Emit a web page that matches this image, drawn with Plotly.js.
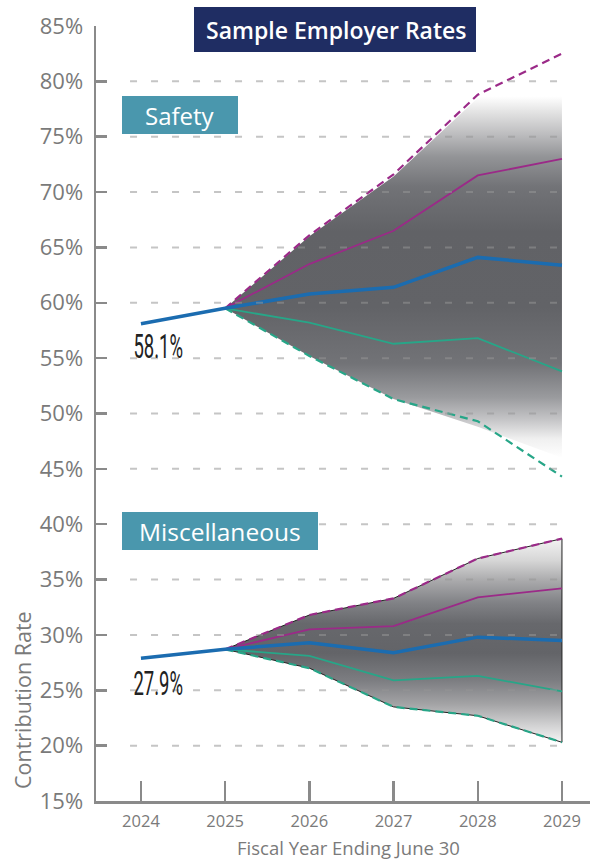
<!DOCTYPE html>
<html>
<head>
<meta charset="utf-8">
<script src="https://cdn.plot.ly/plotly-3.0.1.min.js"></script>
<style>body{margin:0;background:#fff}#chart{width:600px;height:860px}</style>
</head>
<body>
<div id="chart"></div>
<script>
// ---- data ----
const years = [2024, 2025, 2026, 2027, 2028, 2029];
const projYears = [2025, 2026, 2027, 2028, 2029];

const safetyMedian = [58.1, 59.5, 60.8, 61.4, 64.1, 63.4];
const safetyP75 = [59.5, 63.5, 66.5, 71.5, 73.0];
const safetyP95 = [59.5, 66.1, 71.6, 78.8, 82.5];
const safetyP25 = [59.5, 58.2, 56.3, 56.8, 53.8];
const safetyP5 = [59.5, 55.2, 51.3, 49.3, 44.3];
const safetyBandHi = [59.5, 66.0, 71.4, 78.5, 80.5];
const safetyBandLo = [59.5, 55.2, 51.3, 48.8, 46.0];

const miscMedian = [27.9, 28.7, 29.3, 28.4, 29.8, 29.5];
const miscP75 = [28.7, 30.5, 30.8, 33.4, 34.2];
const miscP95 = [28.7, 31.8, 33.3, 36.9, 38.7];
const miscP25 = [28.7, 28.1, 25.9, 26.3, 24.9];
const miscP5 = [28.7, 27.0, 23.5, 22.7, 20.3];

const yTickVals = [15, 20, 25, 30, 35, 40, 45, 50, 55, 60, 65, 70, 75, 80, 85];
const gridVals = [20, 25, 30, 35, 40, 45, 50, 55, 60, 65, 70, 75, 80];

const titleText = 'Sample Employer Rates';
const safetyLabel = 'Safety';
const miscLabel = 'Miscellaneous';
const yTitle = 'Contribution Rate';
const xTitle = 'Fiscal Year Ending June 30';

// ---- styles ----
const BLUE = '#1b6cb0', MAG = '#9b2a88', GRN = '#27a688';
const AX = '#8a8a8a', TXT = '#7a7a7a';
const FONT = 'Open Sans, Noto Sans, sans-serif';

const M = {l: 96, r: 10, t: 26, b: 59};
const PW = 600 - M.l - M.r, PH = 860 - M.t - M.b;
const px = v => (v - M.l) / PW;
const py = v => (860 - M.b - v) / PH;

function band(hi, lo, start, stop, scale, outline) {
  return {
    x: projYears.concat(projYears.slice().reverse()),
    y: hi.concat(lo.slice().reverse()),
    type: 'scatter', mode: 'lines', fill: 'toself',
    line: outline ? {color: '#222', width: 1} : {width: 0, color: 'rgba(0,0,0,0)'},
    fillcolor: '#666',
    fillgradient: {type: 'vertical', start: start, stop: stop, colorscale: scale},
    hoverinfo: 'skip', showlegend: false
  };
}
function line(x, y, color, width, dash) {
  return {x: x, y: y, type: 'scatter', mode: 'lines',
    line: {color: color, width: width, dash: dash || 'solid'}, showlegend: false};
}

// safety gradient: start 46 -> stop 80
const safetyScale = [
  [0, '#ffffff'], [0.05, '#f0f0f0'], [0.1, '#c6c6c8'], [0.16, '#9a9b9e'],
  [0.25, '#727377'], [0.4, '#626367'], [0.6, '#616266'], [0.72, '#727377'],
  [0.8, '#939497'], [0.86, '#bdbdbf'], [0.92, '#e4e4e4'], [0.96, '#ffffff'], [1, '#ffffff']];
// misc gradient: start 20 -> stop 39
const miscScale = [
  [0, '#fbfbfb'], [0.1, '#d0d0d1'], [0.2, '#a2a2a4'], [0.31, '#7c7d81'],
  [0.44, '#636468'], [0.58, '#67686c'], [0.68, '#818286'], [0.78, '#a8a8aa'],
  [0.88, '#d6d6d6'], [1, '#f8f8f8']];

const traces = [
  band(safetyBandHi, safetyBandLo, 46, 80, safetyScale, false),
  band(miscP95, miscP5, 20, 39, miscScale, true),
  line(projYears, safetyP95, MAG, 2.2, '8px,5px'),
  line(projYears, safetyP5, GRN, 2.2, '8px,5px'),
  line(projYears, safetyP75, MAG, 1.8),
  line(projYears, safetyP25, GRN, 1.8),
  line(years, safetyMedian, BLUE, 3.5),
  line(projYears, miscP95, MAG, 2.2, '8px,5px'),
  line(projYears, miscP5, GRN, 2.2, '8px,5px'),
  line(projYears, miscP75, MAG, 1.8),
  line(projYears, miscP25, GRN, 1.8),
  line(years, miscMedian, BLUE, 3.5)
];

const shapes = gridVals.map(v => ({
  type: 'line', xref: 'x', yref: 'y', x0: 2023.87, x1: 2029, y0: v, y1: v,
  layer: 'above', line: {color: 'rgba(150,150,150,0.55)', width: 2, dash: '7px,14px'}
}));
shapes.push(
  {type: 'rect', xref: 'paper', yref: 'paper', x0: px(194), x1: px(476), y0: py(52), y1: py(7),
   fillcolor: '#1f2d63', line: {width: 0}, layer: 'above'},
  {type: 'rect', xref: 'paper', yref: 'paper', x0: px(122), x1: px(238), y0: py(134), y1: py(96),
   fillcolor: '#4a97ad', line: {width: 0}, layer: 'above'},
  {type: 'rect', xref: 'paper', yref: 'paper', x0: px(122), x1: px(318), y0: py(550), y1: py(512),
   fillcolor: '#4a97ad', line: {width: 0}, layer: 'above'}
);

const ann = (x, y, text, font, extra) => Object.assign({
  xref: 'paper', yref: 'paper', x: px(x), y: py(y), text: text, showarrow: false,
  xanchor: 'center', yanchor: 'middle', font: font}, extra || {});

const VALFONT = {family: 'Roboto, Liberation Sans, sans-serif', size: 33, color: '#222222'};
const annotations = [
  ann(336, 30, titleText, {family: FONT, size: 23, color: '#ffffff', weight: 600}),
  ann(180, 115, safetyLabel, {family: FONT, size: 24, color: '#ffffff'}),
  ann(220, 531, miscLabel, {family: FONT, size: 24.5, color: '#ffffff'}),
  ann(158, 346, safetyMedian[0].toFixed(1) + '%', VALFONT),
  ann(158, 683, miscMedian[0].toFixed(1) + '%', VALFONT),
  ann(22, 700, yTitle, {family: FONT, size: 21.5, color: TXT}, {textangle: -90}),
  ann(348, 847, xTitle, {family: FONT, size: 18.5, color: TXT})
];

const layout = {
  width: 600, height: 860, margin: M,
  paper_bgcolor: '#ffffff', plot_bgcolor: '#ffffff',
  showlegend: false,
  xaxis: {
    range: [2023.466, 2029.333], tickvals: years, ticktext: years.map(String),
    showgrid: false, zeroline: false, showline: true, linecolor: AX, linewidth: 2.5,
    ticks: 'inside', ticklen: 20, tickwidth: 2.5, tickcolor: AX,
    tickfont: {family: FONT, size: 16.5, color: TXT}, ticklabelstandoff: 4
  },
  yaxis: {
    range: [15, 85], tickvals: yTickVals, ticktext: yTickVals.map(v => v + '%'),
    showgrid: false, zeroline: false, showline: true, linecolor: AX, linewidth: 2.5,
    ticks: 'inside', ticklen: 11, tickwidth: 2.5, tickcolor: AX,
    tickfont: {family: FONT, size: 22, color: TXT}, ticklabelstandoff: 6
  },
  shapes: shapes,
  annotations: annotations
};

Plotly.newPlot('chart', traces, layout, {staticPlot: true, displayModeBar: false}).then(() => {
  // condense the two value labels horizontally (reference uses a condensed face)
  document.querySelectorAll('g.annotation text.annotation-text').forEach(t => {
    if (/%$/.test(t.textContent)) {
      t.style.transformBox = 'fill-box';
      t.style.transformOrigin = 'center';
      t.style.transform = 'scaleX(0.56)';
    }
  });
});
</script>
</body>
</html>
